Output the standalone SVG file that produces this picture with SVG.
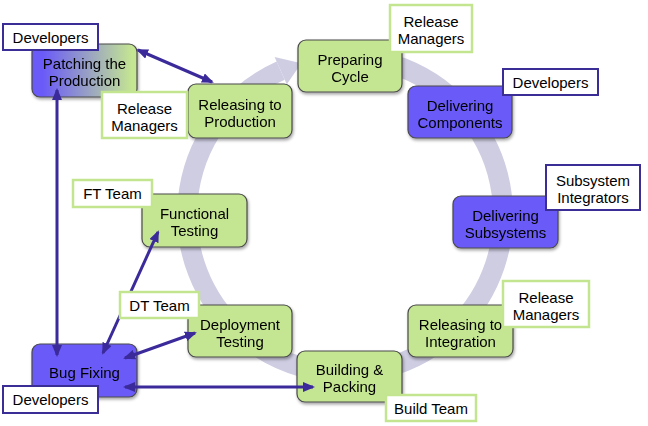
<svg xmlns="http://www.w3.org/2000/svg" width="648" height="426" viewBox="0 0 648 426">
<style>
text{font-family:"Liberation Sans",Arial,sans-serif;font-size:15px;fill:#000;text-anchor:middle}
.g{fill:#c4e592;stroke:#4a4a4a;stroke-width:1.2}
.b{fill:#6a5af8;stroke:#4a4a4a;stroke-width:1.2}
.p{fill:url(#grad);stroke:#4a4a4a;stroke-width:1.2}
.lg{fill:#fff;stroke:#c3e590;stroke-width:2.5}
.lb{fill:#fff;stroke:#3b2d96;stroke-width:2}
.c{fill:none;stroke:#3b2a9a;stroke-width:3;marker-start:url(#ah);marker-end:url(#ah)}
</style>
<defs>
<linearGradient id="grad" x1="0" y1="0" x2="1" y2="0">
<stop offset="0.1" stop-color="#6a5af8"/>
<stop offset="0.95" stop-color="#c4e592"/>
</linearGradient>
<filter id="sh" x="-10%" y="-10%" width="130%" height="140%">
<feDropShadow dx="1" dy="2" stdDeviation="1.5" flood-color="#000" flood-opacity="0.35"/>
</filter>
<marker id="ah" viewBox="0 0 12 10" refX="10" refY="5" markerWidth="12" markerHeight="10" orient="auto-start-reverse" markerUnits="userSpaceOnUse">
<path d="M0,0 L12,5 L0,10 z" fill="#3b2a9a"/>
</marker>
</defs>
<rect width="648" height="426" fill="#fff"/>
<g id="cycle-ring">
<path d="M331.2,57.6 A158,158 0 1 1 280.7,70.7" fill="none" stroke="#cfcde2" stroke-width="20"/>
<path d="M274.6,57 L301.4,63.2 L286.8,84.3 z" fill="#cfcde2"/>
</g>
<g id="preparing-cycle" filter="url(#sh)"><rect class="g" x="298" y="40" width="104" height="52" rx="8"/><text x="350" y="64.5">Preparing</text><text x="350" y="81.5">Cycle</text></g>
<g id="delivering-components" filter="url(#sh)"><rect class="b" x="408" y="86" width="104" height="52" rx="8"/><text x="460" y="110.5">Delivering</text><text x="460" y="127.5">Components</text></g>
<g id="delivering-subsystems" filter="url(#sh)"><rect class="b" x="453" y="196" width="105" height="52" rx="8"/><text x="505.5" y="220.5">Delivering</text><text x="505.5" y="237.5">Subsystems</text></g>
<g id="releasing-integration" filter="url(#sh)"><rect class="g" x="408" y="305" width="105" height="52" rx="8"/><text x="460.5" y="329.5">Releasing to</text><text x="460.5" y="346.5">Integration</text></g>
<g id="building-packing" filter="url(#sh)"><rect class="g" x="297" y="351" width="105" height="51" rx="8"/><text x="349.5" y="375">Building &amp;</text><text x="349.5" y="392">Packing</text></g>
<g id="deployment-testing" filter="url(#sh)"><rect class="g" x="188" y="305" width="104" height="52" rx="8"/><text x="240" y="329.5">Deployment</text><text x="240" y="346.5">Testing</text></g>
<g id="functional-testing" filter="url(#sh)"><rect class="g" x="142" y="194" width="105" height="53" rx="8"/><text x="194.5" y="219">Functional</text><text x="194.5" y="236">Testing</text></g>
<g id="releasing-production" filter="url(#sh)"><rect class="g" x="188" y="84" width="104" height="54" rx="8"/><text x="240" y="110">Releasing to</text><text x="240" y="127">Production</text></g>
<g id="patching-production" filter="url(#sh)"><rect class="p" x="32" y="44" width="105" height="53" rx="8"/><text x="84.5" y="69">Patching the</text><text x="84.5" y="86">Production</text></g>
<g id="bug-fixing" filter="url(#sh)"><rect class="b" x="32" y="344" width="105" height="53" rx="8"/><text x="84.5" y="378">Bug Fixing</text></g>
<g id="connectors">
<line class="c" x1="138" y1="50" x2="212" y2="82"/>
<line class="c" x1="57" y1="90" x2="57" y2="355"/>
<line class="c" x1="103" y1="353" x2="158" y2="232"/>
<line class="c" x1="125" y1="358" x2="195" y2="333"/>
<line class="c" x1="125" y1="387" x2="313" y2="387"/>
</g>
<g id="label-release-managers-prep"><rect class="lg" x="390" y="5" width="82" height="47"/><text x="431" y="27">Release</text><text x="431" y="44">Managers</text></g>
<g id="label-developers-comp"><rect class="lb" x="503" y="69" width="95" height="26"/><text x="550.5" y="87.5">Developers</text></g>
<g id="label-subsystem-integrators"><rect class="lb" x="546" y="165" width="94" height="45"/><text x="593" y="186">Subsystem</text><text x="593" y="203">Integrators</text></g>
<g id="label-release-managers-int"><rect class="lg" x="503" y="281" width="86" height="46"/><text x="546" y="302.5">Release</text><text x="546" y="319.5">Managers</text></g>
<g id="label-build-team"><rect class="lg" x="386" y="395" width="90" height="26"/><text x="431" y="413.5">Build Team</text></g>
<g id="label-dt-team"><rect class="lg" x="120" y="292" width="79" height="26"/><text x="159.5" y="310.5">DT Team</text></g>
<g id="label-developers-bug"><rect class="lb" x="3" y="386" width="95" height="27"/><text x="50.5" y="405">Developers</text></g>
<g id="label-ft-team"><rect class="lg" x="73" y="180" width="79" height="27"/><text x="112.5" y="199">FT Team</text></g>
<g id="label-release-managers-prod"><rect class="lg" x="102" y="92" width="85" height="46"/><text x="144.5" y="113.5">Release</text><text x="144.5" y="130.5">Managers</text></g>
<g id="label-developers-patch"><rect class="lb" x="3" y="24" width="95" height="26"/><text x="50.5" y="42.5">Developers</text></g>
</svg>
